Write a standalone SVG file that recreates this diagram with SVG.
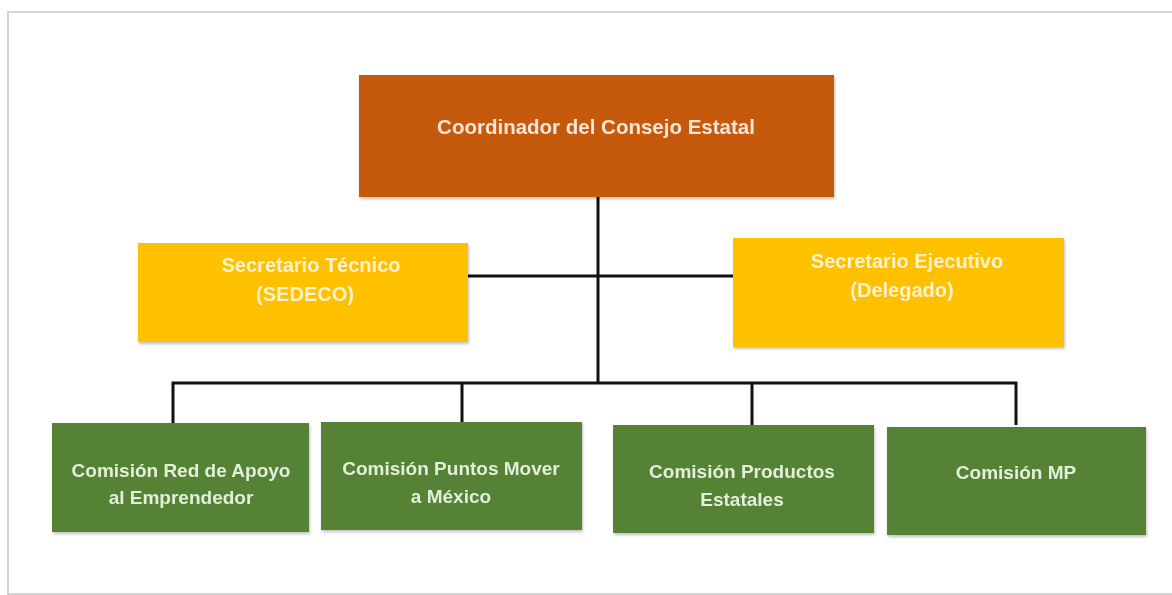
<svg xmlns="http://www.w3.org/2000/svg" width="1172" height="595" viewBox="0 0 1172 595">
  <defs>
    <filter id="sh" x="-5%" y="-5%" width="110%" height="115%">
      <feGaussianBlur in="SourceAlpha" stdDeviation="1.5"/>
      <feOffset dx="1" dy="2" result="b"/>
      <feComponentTransfer><feFuncA type="linear" slope="0.25"/></feComponentTransfer>
      <feMerge><feMergeNode/><feMergeNode in="SourceGraphic"/></feMerge>
    </filter>
  </defs>
  <style>
    text { font-family: "Liberation Sans", Arial, sans-serif; font-weight: bold; text-anchor: middle; }
    .top rect { fill: #C55A11; }
    .top text { fill: #FBE5D6; font-size: 20.5px; }
    .sec rect { fill: #FFC000; }
    .sec text { fill: #FFF2CC; font-size: 20px; }
    .com rect { fill: #548235; }
    .com text { fill: #E2EFDA; font-size: 19px; }
    .conn { stroke: #111; stroke-width: 3; fill: none; }
    .frame { stroke: #D4D4D4; stroke-width: 2; fill: none; }
  </style>
  <rect width="1172" height="595" fill="#FFFFFF"/>
  <path class="frame" d="M1172 12 H8 V594 H1172"/>

  <g id="connectors">
    <path class="conn" d="M598 197 V383"/>
    <path class="conn" d="M468 276 H733"/>
    <path class="conn" d="M173 423 V383 H1016 V425"/>
    <path class="conn" d="M462 383 V422"/>
    <path class="conn" d="M752 383 V425"/>
  </g>

  <g id="coordinador" class="top" filter="url(#sh)">
    <rect x="359" y="75" width="475" height="122"/>
    <text x="596" y="134">Coordinador del Consejo Estatal</text>
  </g>

  <g id="secretario-tecnico" class="sec" filter="url(#sh)">
    <rect x="138" y="243" width="330" height="99"/>
    <text x="311" y="272">Secretario Técnico</text>
    <text x="305" y="301">(SEDECO)</text>
  </g>

  <g id="secretario-ejecutivo" class="sec" filter="url(#sh)">
    <rect x="733" y="238" width="331" height="109"/>
    <text x="907" y="268">Secretario Ejecutivo</text>
    <text x="902" y="297">(Delegado)</text>
  </g>

  <g id="comision-red" class="com" filter="url(#sh)">
    <rect x="52" y="423" width="257" height="109"/>
    <text x="181" y="477">Comisión Red de Apoyo</text>
    <text x="181" y="504">al Emprendedor</text>
  </g>

  <g id="comision-puntos" class="com" filter="url(#sh)">
    <rect x="321" y="422" width="261" height="108"/>
    <text x="451" y="475">Comisión Puntos Mover</text>
    <text x="451" y="503">a México</text>
  </g>

  <g id="comision-productos" class="com" filter="url(#sh)">
    <rect x="613" y="425" width="261" height="108"/>
    <text x="742" y="478">Comisión Productos</text>
    <text x="742" y="506">Estatales</text>
  </g>

  <g id="comision-mp" class="com" filter="url(#sh)">
    <rect x="887" y="427" width="259" height="108"/>
    <text x="1016" y="479">Comisión MP</text>
  </g>
</svg>
